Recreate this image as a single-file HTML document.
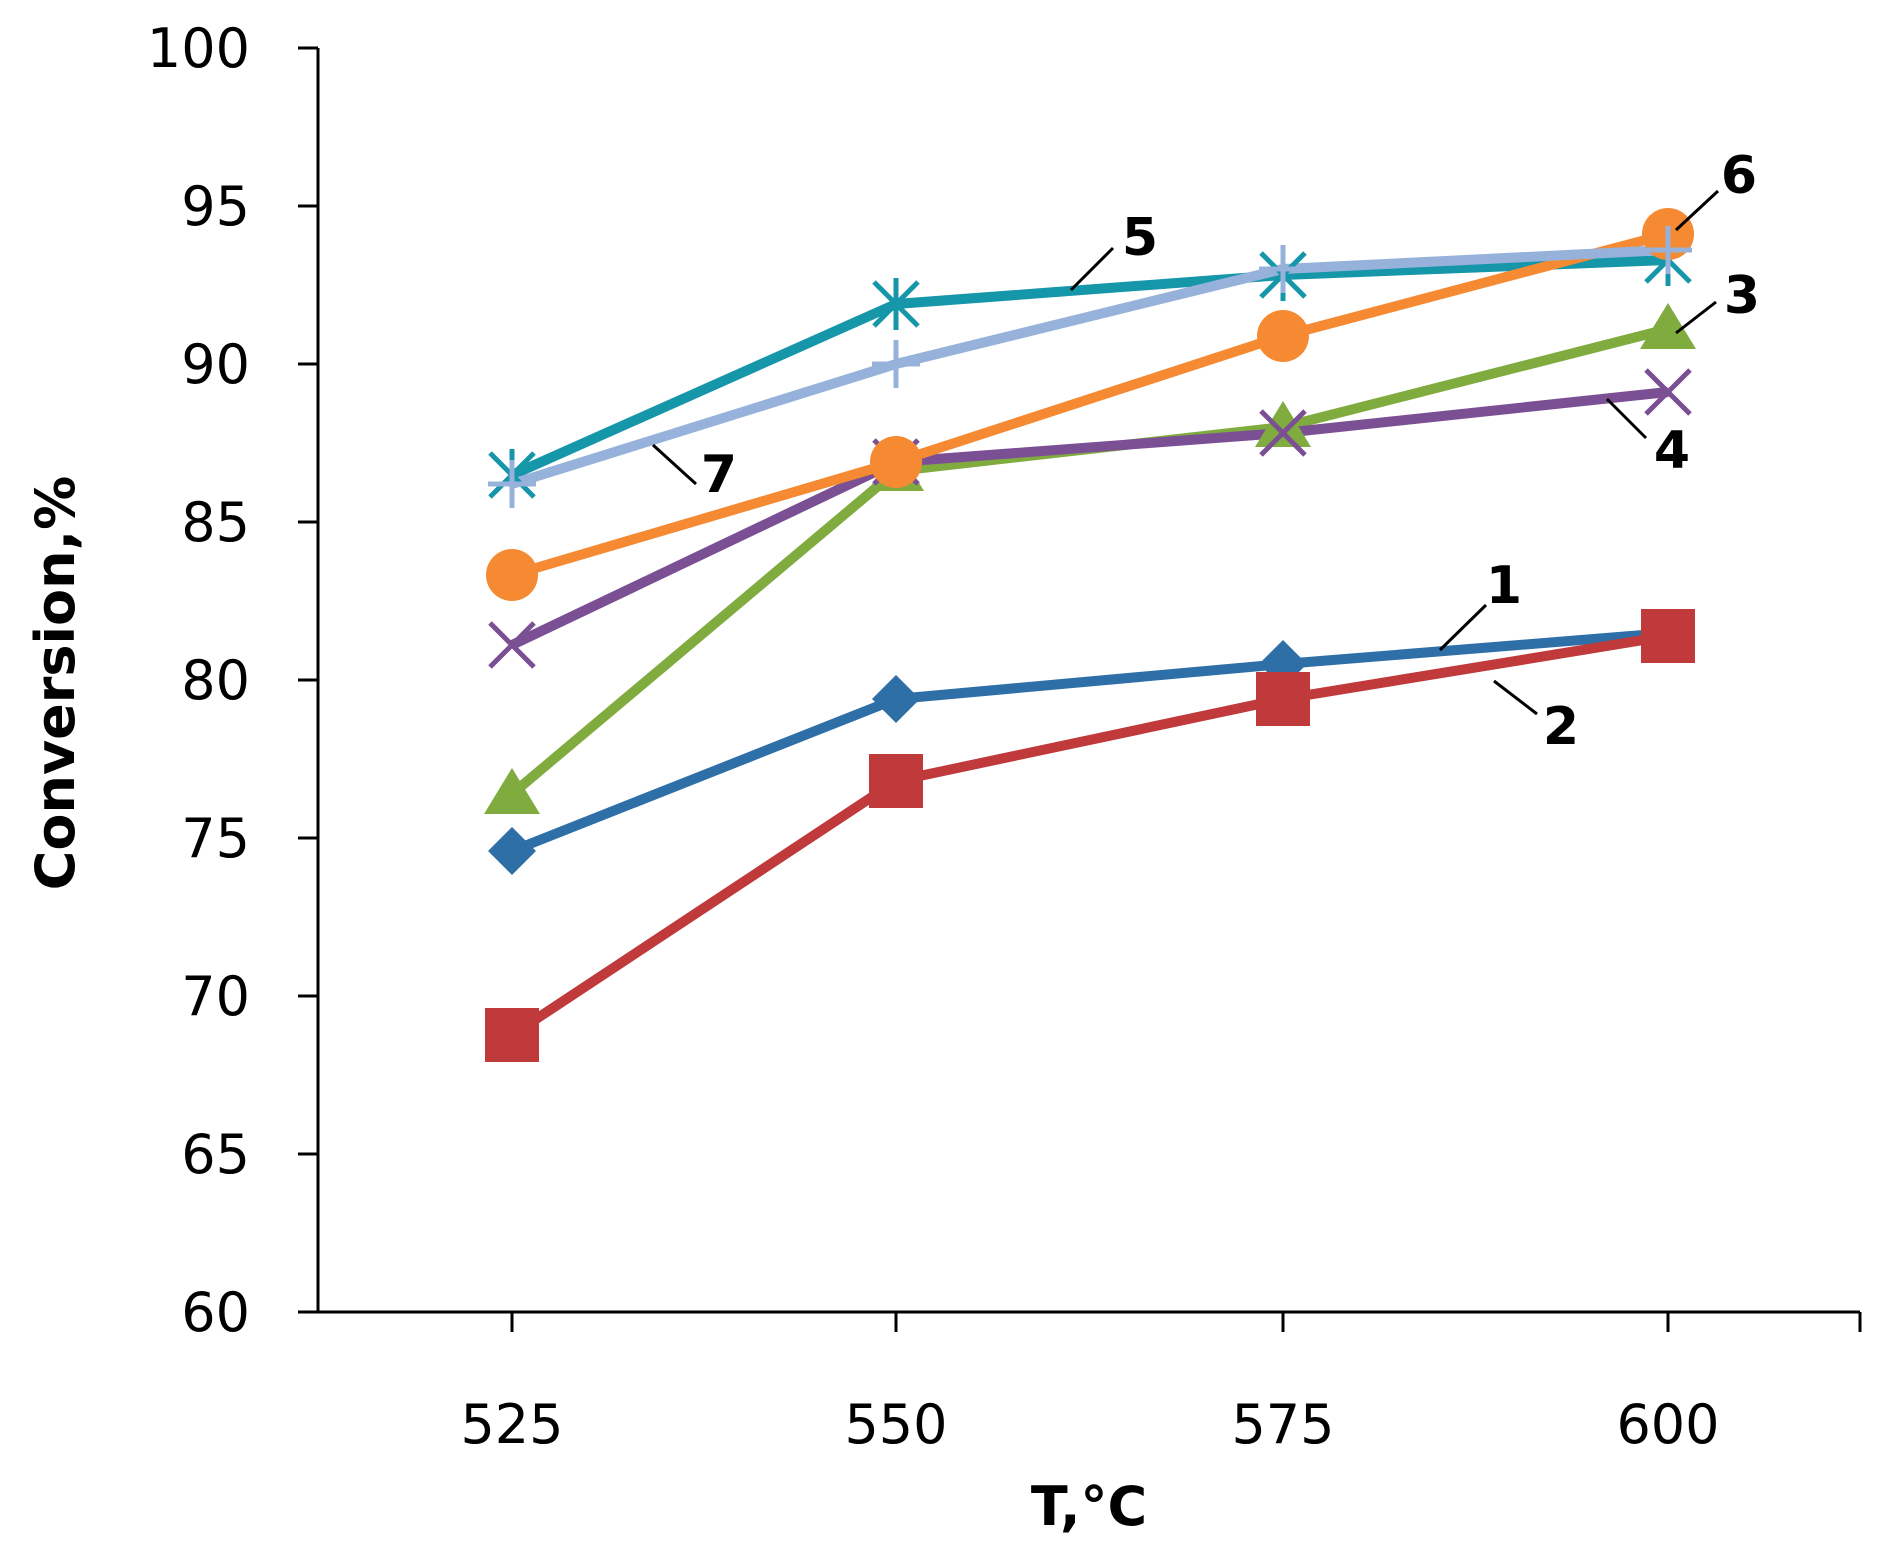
<!DOCTYPE html>
<html><head><style>html,body{margin:0;padding:0;background:#fff}</style></head><body>
<svg width="1888" height="1560" xmlns="http://www.w3.org/2000/svg" font-family="DejaVu Sans, Verdana, sans-serif">
<g stroke="#000" stroke-width="3" fill="none">
<line x1="318" y1="48" x2="318" y2="1312"/>
<line x1="318" y1="1312" x2="1860" y2="1312"/>
<line x1="298" y1="48" x2="318" y2="48"/><line x1="298" y1="206" x2="318" y2="206"/>
<line x1="298" y1="364" x2="318" y2="364"/><line x1="298" y1="522" x2="318" y2="522"/>
<line x1="298" y1="680" x2="318" y2="680"/><line x1="298" y1="838" x2="318" y2="838"/>
<line x1="298" y1="996" x2="318" y2="996"/><line x1="298" y1="1154" x2="318" y2="1154"/>
<line x1="298" y1="1312" x2="318" y2="1312"/>
<line x1="512" y1="1312" x2="512" y2="1332"/><line x1="896" y1="1312" x2="896" y2="1332"/>
<line x1="1283" y1="1312" x2="1283" y2="1332"/><line x1="1668" y1="1312" x2="1668" y2="1332"/>
<line x1="1860" y1="1312" x2="1860" y2="1332"/>
</g>
<g font-size="54" text-anchor="end" fill="#000">
<text x="250" y="67">100</text><text x="250" y="225">95</text><text x="250" y="383">90</text>
<text x="250" y="541">85</text><text x="250" y="699">80</text><text x="250" y="857">75</text>
<text x="250" y="1015">70</text><text x="250" y="1173">65</text><text x="250" y="1331">60</text>
</g>
<g font-size="54" text-anchor="middle">
<text x="512" y="1443">525</text><text x="896" y="1443">550</text>
<text x="1283" y="1443">575</text><text x="1668" y="1443">600</text>
<text x="1089" y="1525" font-weight="bold">T,°C</text>
<text transform="translate(74,683) rotate(-90)" font-weight="bold">Conversion,%</text>
</g>
<g fill="none" stroke-width="10" stroke-linejoin="round">
<polyline stroke="#2e6fa8" points="512,851 896,699 1283,664 1668,633"/>
<polyline stroke="#c0393b" points="512,1035 896,781 1283,699 1668,636"/>
<polyline stroke="#7fab3f" points="512,794 896,471 1283,427 1668,329"/>
<polyline stroke="#7b4f93" points="512,645 896,462 1283,433 1668,392"/>
<polyline stroke="#1596a9" points="512,475 896,304 1283,275 1668,260"/>
<polyline stroke="#f58a33" points="512,575 896,462 1283,336 1668,234"/>
<polyline stroke="#96b2da" points="512,484 896,364 1283,269 1668,250"/>
</g>
<g fill="#2e6fa8"><path d="M512,827 l24,24 -24,24 -24,-24z"/><path d="M896,675 l24,24 -24,24 -24,-24z"/><path d="M1283,640 l24,24 -24,24 -24,-24z"/><path d="M1668,609 l24,24 -24,24 -24,-24z"/></g>
<g fill="#c0393b"><rect x="485" y="1008" width="54" height="54"/><rect x="869" y="754" width="54" height="54"/><rect x="1256" y="672" width="54" height="54"/><rect x="1641" y="609" width="54" height="54"/></g>
<g fill="#7fab3f"><path d="M512,768 l28,46 h-56z"/><path d="M896,445 l28,46 h-56z"/><path d="M1283,401 l28,46 h-56z"/><path d="M1668,303 l28,46 h-56z"/></g>
<g stroke="#7b4f93" stroke-width="5"><path d="M490,623 l44,44 M534,623 l-44,44"/><path d="M874,440 l44,44 M918,440 l-44,44"/><path d="M1261,411 l44,44 M1305,411 l-44,44"/><path d="M1646,370 l44,44 M1690,370 l-44,44"/></g>
<g stroke="#1596a9" stroke-width="5"><path d="M490,453 l44,44 M534,453 l-44,44 M512,449 v52"/><path d="M874,282 l44,44 M918,282 l-44,44 M896,278 v52"/><path d="M1261,253 l44,44 M1305,253 l-44,44 M1283,249 v52"/><path d="M1646,238 l44,44 M1690,238 l-44,44 M1668,234 v52"/></g>
<g fill="#f58a33"><circle cx="512" cy="575" r="26"/><circle cx="896" cy="462" r="26"/><circle cx="1283" cy="336" r="26"/><circle cx="1668" cy="234" r="26"/></g>
<g stroke="#96b2da" stroke-width="5"><path d="M488,484 h48 M512,460 v48"/><path d="M872,364 h48 M896,340 v48"/><path d="M1259,269 h48 M1283,245 v48"/><path d="M1644,250 h48 M1668,226 v48"/></g>
<g stroke="#000" stroke-width="3">
<line x1="1071" y1="290" x2="1113" y2="248"/><line x1="1676" y1="230" x2="1718" y2="191"/>
<line x1="1676" y1="333" x2="1716" y2="302"/><line x1="1607" y1="399" x2="1646" y2="438"/>
<line x1="1440" y1="650" x2="1486" y2="605"/><line x1="1494" y1="681" x2="1537" y2="714"/>
<line x1="653" y1="445" x2="696" y2="484"/>
</g>
<g font-size="52" font-weight="bold" text-anchor="middle">
<text x="1140" y="255">5</text><text x="1739" y="193">6</text><text x="1742" y="313">3</text>
<text x="1672" y="468">4</text><text x="1504" y="603">1</text><text x="1561" y="744">2</text>
<text x="719" y="492">7</text>
</g>
</svg>
</body></html>
